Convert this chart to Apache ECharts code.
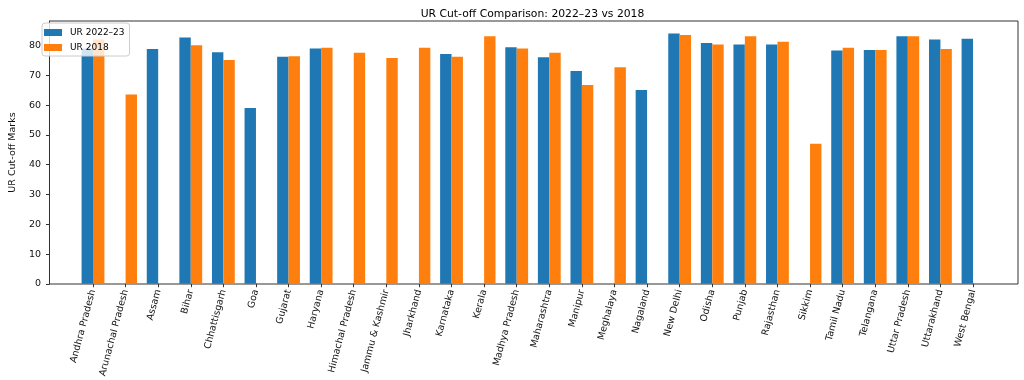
<!DOCTYPE html>
<html>
<head>
<meta charset="utf-8">
<script src="https://cdn.jsdelivr.net/npm/echarts@6/dist/echarts.min.js"></script>
<style>
  html, body { margin: 0; padding: 0; background: #fff; }
  #chart { width: 1024px; height: 380px; }
</style>
</head>
<body>
<div id="chart"></div>
<script>
const categories = ["Andhra Pradesh", "Arunachal Pradesh", "Assam", "Bihar", "Chhattisgarh", "Goa", "Gujarat", "Haryana", "Himachal Pradesh", "Jammu & Kashmir", "Jharkhand", "Karnataka", "Kerala", "Madhya Pradesh", "Maharashtra", "Manipur", "Meghalaya", "Nagaland", "New Delhi", "Odisha", "Punjab", "Rajasthan", "Sikkim", "Tamil Nadu", "Telangana", "Uttar Pradesh", "Uttarakhand", "West Bengal"];
const ur2022_23 = [79.0, null, 78.8, 82.7, 77.7, 59.0, 76.2, 79.0, null, null, null, 77.1, null, 79.4, 76.0, 71.4, null, 65.0, 84.0, 80.8, 80.3, 80.3, null, 78.3, 78.5, 83.1, 82.0, 82.2];
const ur2018 = [82.0, 63.5, null, 80.1, 75.1, null, 76.4, 79.2, 77.5, 75.8, 79.2, 76.2, 83.1, 79.0, 77.5, 66.7, 72.7, null, 83.5, 80.3, 83.1, 81.2, 47.0, 79.2, 78.5, 83.1, 78.8, null];
const yTicks = [0, 10, 20, 30, 40, 50, 60, 70, 80];
const yMax = 88.2;

const FONT = "DejaVu Sans";
const chart = echarts.init(document.getElementById('chart'), null, { renderer: 'canvas' });
chart.setOption({
  animation: false,
  backgroundColor: '#fff',
  textStyle: { fontFamily: FONT },
  title: {
    text: 'UR Cut-off Comparison: 2022\u201323 vs 2018',
    left: 527.5, top: 4, textAlign: 'center',
    textStyle: { fontFamily: FONT, fontSize: 10.8, fontWeight: 'normal', color: '#000' }
  },
  legend: {
    orient: 'vertical', left: 42, top: 23,
    padding: [5, 5, 4, 2], itemGap: 6,
    itemWidth: 18, itemHeight: 7, icon: 'rect',
    backgroundColor: 'rgba(255,255,255,0.8)',
    borderColor: '#cccccc', borderWidth: 1, borderRadius: 3,
    textStyle: { fontFamily: FONT, fontSize: 9, color: '#000', padding: [0, 0, 0, 3] },
    data: ['UR 2022\u201323', 'UR 2018']
  },
  grid: [
    { left: 37, right: 6, top: 21, bottom: 96, show: true, borderColor: '#333', borderWidth: 1, backgroundColor: 'transparent' },
    { left: 76.7, right: 34.7, top: 21, bottom: 96 }
  ],
  xAxis: [
    { gridIndex: 0, type: 'value', min: 0, max: 1, show: false },
    {
      gridIndex: 1, type: 'category', data: categories,
      axisLine: { show: false },
      axisTick: { show: true, alignWithLabel: true, length: 3.5, lineStyle: { color: '#333' } },
      axisLabel: { rotate: 75, interval: 0, margin: 6, fontFamily: FONT, fontSize: 9.5, color: '#111' },
      splitLine: { show: false }
    }
  ],
  yAxis: [
    {
      gridIndex: 0, type: 'value', min: 0, max: yMax,
      name: 'UR Cut-off Marks', nameLocation: 'middle', nameGap: 25,
      nameTextStyle: { fontFamily: FONT, fontSize: 9.5, color: '#111' },
      axisLine: { show: true, lineStyle: { color: '#333' } },
      axisTick: { show: true, length: 3.5, customValues: yTicks, lineStyle: { color: '#333' } },
      axisLabel: { customValues: yTicks, margin: 8.5, fontFamily: FONT, fontSize: 9.5, color: '#111' },
      splitLine: { show: false }
    },
    { gridIndex: 1, type: 'value', min: 0, max: yMax, show: false, splitLine: { show: false } }
  ],
  series: [
    {
      name: 'UR 2022\u201323', type: 'bar', xAxisIndex: 1, yAxisIndex: 1,
      data: ur2022_23, barWidth: '35%', barGap: '0%',
      itemStyle: { color: '#1f77b4' }
    },
    {
      name: 'UR 2018', type: 'bar', xAxisIndex: 1, yAxisIndex: 1,
      data: ur2018, barWidth: '35%', barGap: '0%',
      itemStyle: { color: '#ff7f0e' }
    }
  ]
});
</script>
</body>
</html>
